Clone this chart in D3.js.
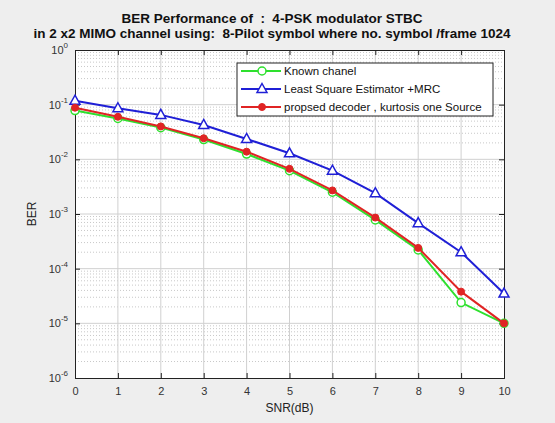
<!DOCTYPE html>
<html>
<head>
<meta charset="utf-8">
<script src="https://cdn.jsdelivr.net/npm/d3@7"></script>
<style>
  body { margin: 0; background: #eeeeee; }
  svg { display: block; font-family: "Liberation Sans", Arial, sans-serif; }
</style>
</head>
<body>
<svg id="chart" width="555" height="423"></svg>
<script>
// SNR values (dB)
var snr = [0, 1, 2, 3, 4, 5, 6, 7, 8, 9, 10];
// BER per series
var knownChannel = [0.078, 0.056, 0.038, 0.023, 0.0125, 0.0062, 0.0025, 0.00078, 0.00022, 0.000024, 0.00001];
var leastSquare = [0.118, 0.086, 0.065, 0.0425, 0.0236, 0.0129, 0.0062, 0.0024, 0.00068, 0.0002, 0.000035];
var proposed = [0.088, 0.06, 0.04, 0.0243, 0.0138, 0.0067, 0.0027, 0.00086, 0.00024, 0.000038, 0.00001];
var seriesNames = ['Known chanel', 'Least Square Estimator +MRC', 'propsed decoder , kurtosis one Source'];
var yTicks = [1, 1e-1, 1e-2, 1e-3, 1e-4, 1e-5, 1e-6];
var titleLines = ['BER Performance of  :  4-PSK modulator STBC',
                  'in 2 x2 MIMO channel using:  8-Pilot symbol where no. symbol /frame 1024'];

var svg = d3.select('#chart');
var m = {left: 75, top: 50, right: 504, bottom: 378};

var x = d3.scaleLinear().domain([0, 10]).range([m.left, m.right]);
var y = d3.scaleLog().domain([1e-6, 1]).range([m.bottom, m.top]);

// axes background
svg.append('rect')
    .attr('x', m.left).attr('y', m.top)
    .attr('width', m.right - m.left).attr('height', m.bottom - m.top)
    .attr('fill', '#fff');

// minor grid (dotted)
var minor = [];
for (var e = -6; e < 0; e++) {
    for (var k = 2; k <= 9; k++) minor.push(k * Math.pow(10, e));
}
svg.append('g').selectAll('line').data(minor).enter().append('line')
    .attr('x1', m.left).attr('x2', m.right)
    .attr('y1', function(d){ return y(d); }).attr('y2', function(d){ return y(d); })
    .attr('stroke', '#c8c8c8').attr('stroke-width', 1)
    .attr('stroke-dasharray', '1,2');

// major grid
svg.append('g').selectAll('line').data(yTicks.slice(1, 6)).enter().append('line')
    .attr('x1', m.left).attr('x2', m.right)
    .attr('y1', function(d){ return y(d); }).attr('y2', function(d){ return y(d); })
    .attr('stroke', '#d0d0d0').attr('stroke-width', 1);
svg.append('g').selectAll('line').data(snr.slice(1, 10)).enter().append('line')
    .attr('y1', m.top).attr('y2', m.bottom)
    .attr('x1', function(d){ return x(d); }).attr('x2', function(d){ return x(d); })
    .attr('stroke', '#d0d0d0').attr('stroke-width', 1);

// axes
var xAxis = svg.append('g')
    .attr('transform', 'translate(0,' + m.bottom + ')')
    .call(d3.axisBottom(x).tickValues(snr).tickSize(-5).tickPadding(9).tickFormat(d3.format('d')));
svg.append('g')
    .attr('transform', 'translate(0,' + m.top + ')')
    .call(d3.axisTop(x).tickValues(snr).tickSize(-5).tickFormat(''));
svg.append('g')
    .attr('transform', 'translate(' + m.left + ',0)')
    .call(d3.axisLeft(y).tickValues(yTicks).tickSize(-5).tickFormat(''));
svg.append('g')
    .attr('transform', 'translate(' + m.right + ',0)')
    .call(d3.axisRight(y).tickValues(yTicks).tickSize(-5).tickFormat(''));

svg.selectAll('.domain').attr('stroke', '#222');
svg.selectAll('.tick line').attr('stroke', '#222');
xAxis.selectAll('text').attr('font-size', 11).attr('fill', '#333')
    .attr('font-family', '"Liberation Sans", Arial, sans-serif');

// y tick labels 10^k
yTicks.forEach(function(d){
    var t = svg.append('text')
        .attr('x', m.left - 7).attr('y', y(d) + 4)
        .attr('text-anchor', 'end')
        .attr('font-size', 11).attr('fill', '#333');
    t.append('tspan').text('10');
    t.append('tspan').attr('dy', -6).attr('font-size', 8)
        .text(d === 1 ? '0' : '-' + Math.round(-Math.log10(d)));
});

// axis labels
svg.append('text')
    .attr('x', (m.left + m.right) / 2).attr('y', 412)
    .attr('text-anchor', 'middle').attr('font-size', 12).attr('fill', '#222')
    .text('SNR(dB)');
svg.append('text')
    .attr('transform', 'translate(36,' + ((m.top + m.bottom) / 2) + ') rotate(-90)')
    .attr('text-anchor', 'middle').attr('font-size', 12).attr('fill', '#222')
    .text('BER');

// title
svg.append('g').selectAll('text').data(titleLines).enter().append('text')
    .attr('x', 272)
    .attr('y', function(d, i){ return 23 + i * 14.5; })
    .attr('text-anchor', 'middle')
    .style('white-space', 'pre')
    .attr('font-size', 13.5).attr('font-weight', 'bold').attr('fill', '#111')
    .text(function(d){ return d; });

// series
var series = [
    {name: seriesNames[0], values: knownChannel, color: '#2ee02e', marker: 'circleOpen'},
    {name: seriesNames[1], values: leastSquare, color: '#1f1fd6', marker: 'triangle'},
    {name: seriesNames[2], values: proposed, color: '#e02424', marker: 'dot'}
];

var line = d3.line()
    .x(function(d){ return x(d[0]); })
    .y(function(d){ return y(d[1]); });

function drawMarker(g, type, color) {
    if (type === 'circleOpen') {
        g.append('circle').attr('r', 4).attr('fill', '#fff')
            .attr('stroke', color).attr('stroke-width', 1.5);
    } else if (type === 'triangle') {
        g.append('path').attr('d', 'M0,-5.5L5,3.5L-5,3.5Z').attr('fill', '#fff')
            .attr('stroke', color).attr('stroke-width', 1.5);
    } else {
        g.append('circle').attr('r', 3.5).attr('fill', color)
            .attr('stroke', color).attr('stroke-width', 1);
    }
}

series.forEach(function(s){
    var pts = snr.map(function(d, i){ return [d, s.values[i]]; });
    svg.append('path').datum(pts)
        .attr('d', line).attr('fill', 'none')
        .attr('stroke', s.color).attr('stroke-width', 2);
    svg.append('g').selectAll('g').data(pts).enter().append('g')
        .attr('transform', function(d){ return 'translate(' + x(d[0]) + ',' + y(d[1]) + ')'; })
        .each(function(){ drawMarker(d3.select(this), s.marker, s.color); });
});

// legend
var lg = svg.append('g').attr('transform', 'translate(237,63)');
lg.append('rect').attr('width', 256).attr('height', 53)
    .attr('fill', '#fff').attr('stroke', '#222').attr('stroke-width', 1);
var items = lg.selectAll('g.item').data(series).enter().append('g')
    .attr('class', 'item')
    .attr('transform', function(d, i){ return 'translate(0,' + (8 + i * 18) + ')'; });
items.append('line').attr('x1', 4).attr('x2', 44)
    .attr('stroke', function(d){ return d.color; }).attr('stroke-width', 2);
items.append('g').attr('transform', 'translate(25,0)')
    .each(function(d){ drawMarker(d3.select(this), d.marker, d.color); });
items.append('text').attr('x', 47).attr('y', 4)
    .attr('font-size', 11.5).attr('fill', '#111')
    .text(function(d){ return d.name; });
</script>
</body>
</html>
